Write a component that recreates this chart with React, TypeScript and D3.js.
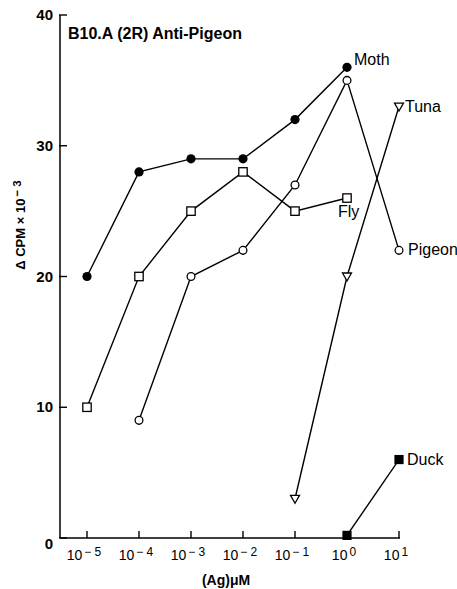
import * as d3 from "d3";

const exponents = [-5, -4, -3, -2, -1, 0, 1];
const yTicks = [0, 10, 20, 30, 40];

const moth = [20, 28, 29, 29, 32, 36, null];
const fly = [10, 20, 25, 28, 25, 26, null];
const pigeon = [null, 9, 20, 22, 27, 35, 22];
const tuna = [null, null, null, null, 3, 20, 33];
const duck = [null, null, null, null, null, 0.2, 6];

type Marker = "filledCircle" | "openCircle" | "openSquare" | "filledSquare" | "openTriangle";

const series: { name: string; values: (number | null)[]; marker: Marker; dx: number; dy: number; labelAt: number }[] = [
  { name: "Moth", values: moth, marker: "filledCircle", dx: 7, dy: -2, labelAt: 5 },
  { name: "Fly", values: fly, marker: "openSquare", dx: -9, dy: 19, labelAt: 5 },
  { name: "Pigeon", values: pigeon, marker: "openCircle", dx: 9, dy: 5, labelAt: 6 },
  { name: "Tuna", values: tuna, marker: "openTriangle", dx: 6, dy: 5, labelAt: 6 },
  { name: "Duck", values: duck, marker: "filledSquare", dx: 8, dy: 5, labelAt: 6 },
];

const font = "Arial, 'Liberation Sans', Helvetica, sans-serif";

function MarkerShape({ type, x, y }: { type: Marker; x: number; y: number }) {
  const s = 1.3;
  switch (type) {
    case "filledCircle":
      return <circle cx={x} cy={y} r={4.6} fill="#000" />;
    case "openCircle":
      return <circle cx={x} cy={y} r={3.9} fill="#fff" stroke="#000" strokeWidth={s} />;
    case "openSquare":
      return <rect x={x - 4.2} y={y - 4.2} width={8.4} height={8.4} fill="#fff" stroke="#000" strokeWidth={s} />;
    case "filledSquare":
      return <rect x={x - 4.6} y={y - 4.6} width={9.2} height={9.2} fill="#000" />;
    case "openTriangle":
      return (
        <path
          d={`M${x - 4.5},${y - 3.5} L${x + 4.5},${y - 3.5} L${x},${y + 4.5} Z`}
          fill="#fff"
          stroke="#000"
          strokeWidth={s}
        />
      );
  }
}

export default function App() {
  const width = 457;
  const height = 589;

  const x = d3.scaleLinear().domain([-5, 1]).range([87, 399]);
  const y = d3.scaleLinear().domain([0, 40]).range([538, 15]);
  const axisX0 = 60;

  const line = d3
    .line<number | null>()
    .defined((d) => d !== null)
    .x((_, i) => x(exponents[i]))
    .y((d) => y(d as number));

  return (
    <svg
      width={width}
      height={height}
      style={{ position: "absolute", left: 0, top: 0, background: "#fff" }}
      fontFamily={font}
    >
      <rect width={width} height={height} fill="#fff" />

      {/* axes */}
      <line x1={axisX0} y1={y(40)} x2={axisX0} y2={y(0)} stroke="#000" strokeWidth={1.5} />
      <line x1={axisX0} y1={y(0)} x2={x(1) + 1} y2={y(0)} stroke="#000" strokeWidth={1.5} />

      {yTicks.map((t) => (
        <g key={t}>
          <line x1={axisX0 - 1} y1={y(t)} x2={axisX0 + 7} y2={y(t)} stroke="#000" strokeWidth={1.4} />
          <text x={53} y={t === 0 ? y(t) + 11 : y(t) + 5} textAnchor="end" fontSize={15} fontWeight="bold">
            {t}
          </text>
        </g>
      ))}

      {exponents.map((e) => (
        <g key={e}>
          <line x1={x(e)} y1={y(0)} x2={x(e)} y2={y(0) - 7} stroke="#000" strokeWidth={1.4} />
          <text x={x(e) - 3} y={y(0) + 22} textAnchor="middle" fontSize={14}>
            10
            <tspan dx={2} dy={-4} fontSize={12}>
              {e < 0 ? `\u2212 ${-e}` : `${e}`}
            </tspan>
          </text>
        </g>
      ))}

      <text x={226} y={585} textAnchor="middle" fontSize={14} fontWeight="bold">
        (Ag)μM
      </text>

      <text transform={`translate(25, 225) rotate(-90)`} textAnchor="middle" fontSize={13} fontWeight="bold">
        Δ CPM × 10
        <tspan dx={2} dy={-4} fontSize={11.5}>
          {"\u2212 3"}
        </tspan>
      </text>

      <text x={68} y={39} fontSize={16} fontWeight="bold">
        B10.A (2R) Anti-Pigeon
      </text>

      {/* series lines */}
      {series.map((s) => (
        <path key={s.name} d={line(s.values) ?? ""} fill="none" stroke="#000" strokeWidth={1.4} />
      ))}

      {/* markers */}
      {series.map((s) =>
        s.values.map((v, i) =>
          v === null ? null : <MarkerShape key={`${s.name}-${i}`} type={s.marker} x={x(exponents[i])} y={y(v)} />
        )
      )}

      {/* series labels */}
      {series.map((s) => (
        <text
          key={`lbl-${s.name}`}
          x={x(exponents[s.labelAt]) + s.dx}
          y={y(s.values[s.labelAt] as number) + s.dy}
          fontSize={16}
        >
          {s.name}
        </text>
      ))}
    </svg>
  );
}
